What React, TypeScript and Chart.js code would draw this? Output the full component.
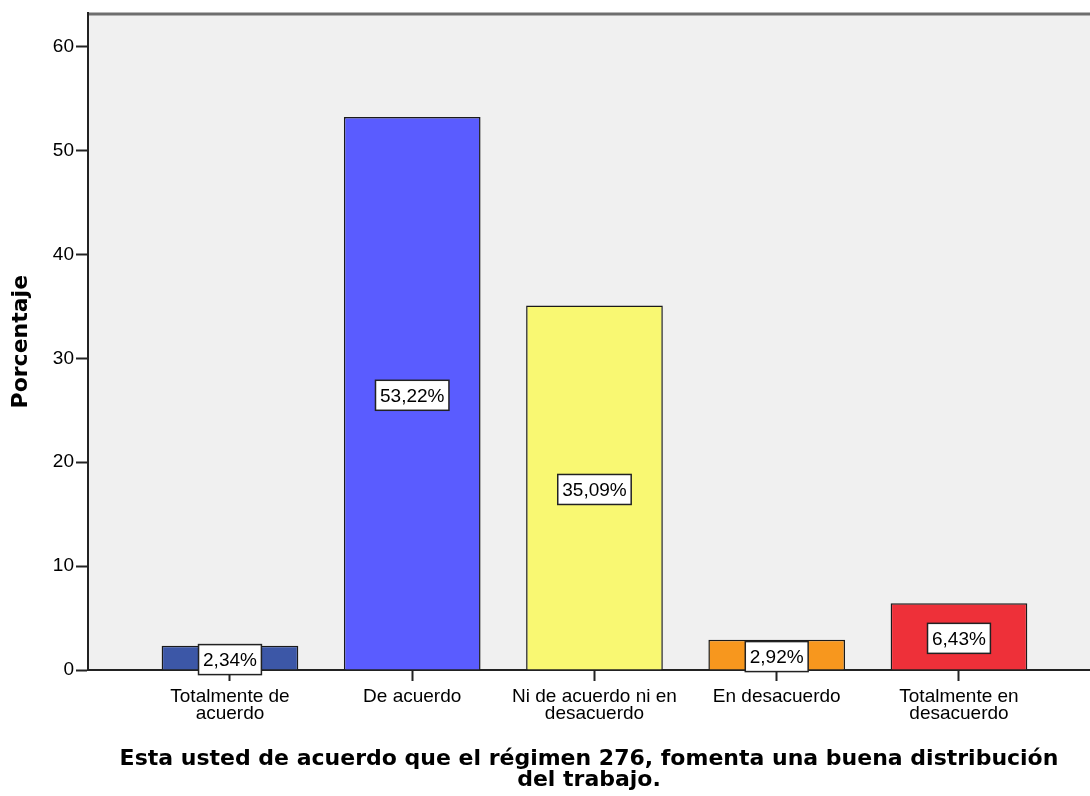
import React, { useEffect, useRef } from "react";
import { Chart, registerables } from "chart.js";

Chart.register(...registerables);

const categories: string[][] = [
  ["Totalmente de", "acuerdo"],
  ["De acuerdo"],
  ["Ni de acuerdo ni en", "desacuerdo"],
  ["En desacuerdo"],
  ["Totalmente en", "desacuerdo"],
];
const percentages: number[] = [2.34, 53.22, 35.09, 2.92, 6.43];
const valueLabels: string[] = ["2,34%", "53,22%", "35,09%", "2,92%", "6,43%"];
const barColors: string[] = ["#3C57A7", "#5A5CFF", "#F9F872", "#F7971E", "#EE3039"];
const yTicks: number[] = [0, 10, 20, 30, 40, 50, 60];
const xTitle: string[] = [
  "Esta usted de acuerdo que el régimen 276, fomenta una buena distribución",
  "del trabajo.",
];
const yTitle = "Porcentaje";

const FONT = "'Liberation Sans', Arial, sans-serif";
const TFONT = "'DejaVu Sans', sans-serif";

const bgPlugin = {
  id: "plotBg",
  beforeDraw(chart: any) {
    const { ctx, chartArea } = chart;
    if (!chartArea) return;
    ctx.save();
    ctx.fillStyle = "#F0F0F0";
    ctx.fillRect(chartArea.left, chartArea.top, chartArea.right - chartArea.left, chartArea.bottom - chartArea.top);
    ctx.strokeStyle = "#6E6E6E";
    ctx.lineWidth = 3;
    ctx.beginPath();
    ctx.moveTo(chartArea.left, chartArea.top + 0.5);
    ctx.lineTo(chartArea.right, chartArea.top + 0.5);
    ctx.stroke();
    ctx.restore();
  },
};

const labelPlugin = {
  id: "valueLabels",
  afterDatasetsDraw(chart: any) {
    const { ctx } = chart;
    const meta = chart.getDatasetMeta(0);
    ctx.save();
    ctx.font = `19px ${FONT}`;
    ctx.textAlign = "center";
    ctx.textBaseline = "middle";
    meta.data.forEach((bar: any, i: number) => {
      const text = valueLabels[i];
      const cx = bar.x;
      const cy = (bar.y + bar.base) / 2 + 2;
      const w = ctx.measureText(text).width + 9;
      const h = 30;
      ctx.fillStyle = "#FFFFFF";
      ctx.fillRect(cx - w / 2, cy - h / 2, w, h);
      ctx.strokeStyle = "#222222";
      ctx.lineWidth = 1.5;
      ctx.strokeRect(cx - w / 2, cy - h / 2, w, h);
      ctx.fillStyle = "#000000";
      ctx.fillText(text, cx, cy + 1);
    });
    ctx.restore();
  },
};

export default function App() {
  const ref = useRef<HTMLCanvasElement>(null);
  useEffect(() => {
    if (!ref.current) return;
    const chart = new Chart(ref.current, {
      type: "bar",
      data: {
        datasets: [
          {
            data: percentages.map((v, i) => ({ x: i, y: v })),
            backgroundColor: barColors,
            borderColor: "#1A1A1A",
            borderWidth: 1.5,
            barPercentage: 0.75,
            categoryPercentage: 1,
          },
        ],
      },
      options: {
        animation: false,
        responsive: false,
        layout: { padding: { top: 12, left: 0, right: 0, bottom: 6 } },
        plugins: { legend: { display: false }, tooltip: { enabled: false } },
        scales: {
          x: {
            type: "linear",
            offset: false,
            min: -0.779,
            max: 4.719,
            afterBuildTicks: (scale: any) => {
              scale.ticks = categories.map((_, i) => ({ value: i }));
            },
            afterFit: (scale: any) => {
              scale.height = 120;
            },
            ticks: {
              includeBounds: false,
              autoSkip: false,
              maxRotation: 0,
              padding: 7,
              color: "#000",
              font: { family: FONT, size: 19, lineHeight: 0.9 },
              callback: (v: any) => categories[v as number] ?? "",
            },
            grid: { offset: false, drawOnChartArea: false, drawTicks: true, tickLength: 11, tickColor: "#222", tickWidth: 2 },
            border: { display: true, color: "#222", width: 2 },
            title: {
              display: true,
              text: xTitle,
              color: "#000",
              font: { family: TFONT, size: 22, weight: "bold", lineHeight: 0.92 },
              padding: { top: 0, bottom: 0 },
            },
          },
          y: {
            min: 0,
            max: 63.2,
            afterBuildTicks: (scale: any) => {
              scale.ticks = yTicks.map((v) => ({ value: v }));
            },
            afterFit: (scale: any) => {
              scale.width = 88;
            },
            ticks: {
              includeBounds: false,
              padding: 2,
              color: "#000",
              font: { family: FONT, size: 19 },
            },
            grid: { drawOnChartArea: false, drawTicks: true, tickLength: 12, tickColor: "#222", tickWidth: 2 },
            border: { display: true, color: "#222", width: 2 },
            title: {
              display: true,
              text: yTitle,
              color: "#000",
              font: { family: TFONT, size: 22, weight: "bold" },
              padding: { top: 8, bottom: 0 },
            },
          },
        },
      },
      plugins: [bgPlugin, labelPlugin],
    } as any);
    return () => chart.destroy();
  }, []);
  return (
    <div style={{ position: "absolute", left: 0, top: 0, width: 1090, height: 796, background: "#fff" }}>
      <canvas ref={ref} width={1090} height={796} style={{ display: "block", width: 1090, height: 796 }} />
    </div>
  );
}
